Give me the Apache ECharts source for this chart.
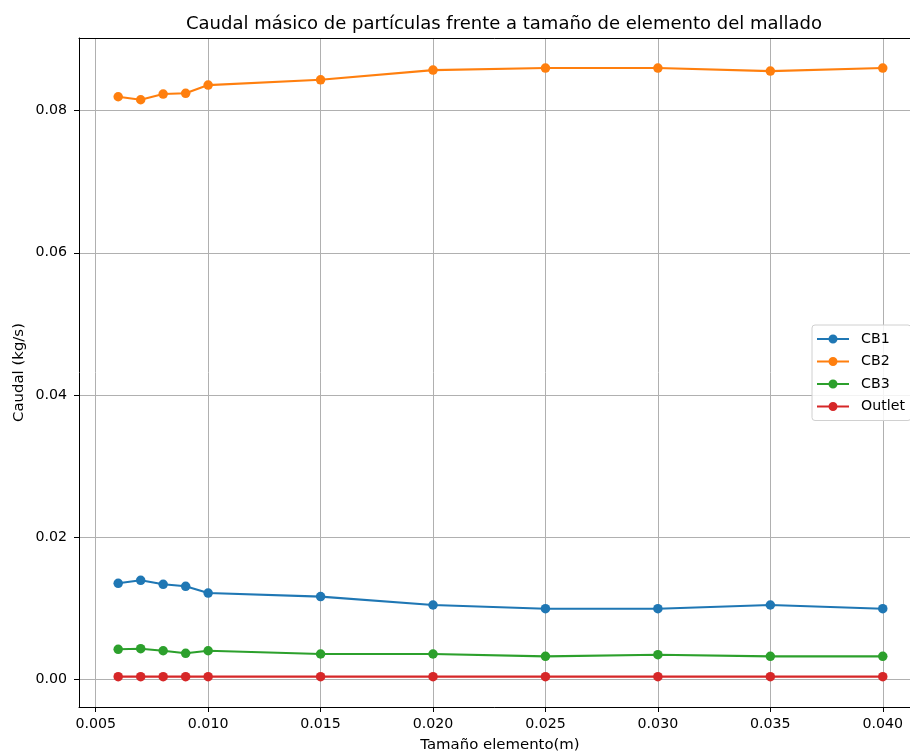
<!DOCTYPE html>
<html>
<head>
<meta charset="utf-8">
<script src="https://cdn.jsdelivr.net/npm/echarts@6/dist/echarts.min.js"></script>
<style>
  html, body { margin: 0; padding: 0; background: #fff; }
  #chart { width: 910px; height: 753px; }
</style>
</head>
<body>
<div id="chart"></div>
<script>
// Element sizes (m) of each mesh
const elementSizes = [0.006, 0.007, 0.008, 0.009, 0.010, 0.015, 0.020, 0.025, 0.030, 0.035, 0.040];

// Particle mass flow (kg/s) per boundary
const cb1 = [0.01347, 0.01389, 0.01333, 0.01305, 0.01210, 0.01160, 0.01042, 0.00990, 0.00990, 0.01042, 0.00990];
const cb2 = [0.08196, 0.08154, 0.08234, 0.08245, 0.08360, 0.08435, 0.08571, 0.08600, 0.08600, 0.08557, 0.08600];
const cb3 = [0.00418, 0.00427, 0.00398, 0.00362, 0.00398, 0.00352, 0.00352, 0.00319, 0.00342, 0.00319, 0.00319];
const outlet = [0.00033, 0.00033, 0.00033, 0.00033, 0.00033, 0.00033, 0.00033, 0.00033, 0.00033, 0.00033, 0.00033];

const seriesNames = ['CB1', 'CB2', 'CB3', 'Outlet'];
const seriesColors = ['#1f77b4', '#ff7f0e', '#2ca02c', '#d62728'];

// Tick positions
const xTicks = [0.005, 0.010, 0.015, 0.020, 0.025, 0.030, 0.035, 0.040];
const yTicks = [0.00, 0.02, 0.04, 0.06, 0.08];

const FONT = 'DejaVu Sans';
const FS = 14.2;       // tick and legend text
const FS_NAME = 14.9;  // axis titles
const X_MIN = 0.004257, X_MAX = 0.0417;
const legendIcon = 'path://M0,4H32V6H0Z M11.5,5A4.5,4.5 0 1 1 20.5,5A4.5,4.5 0 1 1 11.5,5Z';

function makeSeries(name, values, color) {
  return {
    name: name,
    type: 'line',
    xAxisIndex: 0,
    data: elementSizes.map((x, i) => [x, values[i]]),
    symbol: 'circle',
    symbolSize: 9.5,
    showSymbol: true,
    lineStyle: { color: color, width: 2.1 },
    itemStyle: { color: color },
    emphasis: { disabled: true },
    animation: false
  };
}

const chart = echarts.init(document.getElementById('chart'), null, { renderer: 'canvas' });

chart.setOption({
  backgroundColor: '#fff',
  animation: false,
  textStyle: { fontFamily: FONT },
  title: {
    text: 'Caudal másico de partículas frente a tamaño de elemento del mallado',
    left: 499,
    textAlign: 'center',
    top: 10,
    textStyle: { fontFamily: FONT, fontSize: 18, fontWeight: 'normal', color: '#000' }
  },
  grid: {
    left: 79, top: 38, width: 842, height: 669,
    outerBoundsMode: 'none',
    containLabel: false
  },
  legend: {
    orient: 'vertical',
    left: 812, top: 325,
    padding: [7, 6, 7, 5],
    itemGap: 8.5,
    itemWidth: 32, itemHeight: 9,
    icon: legendIcon,
    backgroundColor: 'rgba(255,255,255,0.85)',
    borderColor: '#d0d0d0', borderWidth: 1, borderRadius: 3,
    textStyle: { fontFamily: FONT, fontSize: FS, color: '#000', padding: [0, 0, 0, 7] },
    data: seriesNames
  },
  xAxis: [{
    type: 'value',
    position: 'bottom',
    min: X_MIN, max: X_MAX,
    splitNumber: 7,
    name: 'Tamaño elemento(m)',
    nameLocation: 'middle',
    nameGap: 31,
    nameMoveOverlap: false,
    nameTextStyle: { fontFamily: FONT, fontSize: FS_NAME, color: '#000' },
    axisLine: { onZero: false, lineStyle: { color: '#000', width: 1 } },
    axisTick: { show: true, inside: false, length: 5, customValues: xTicks, lineStyle: { color: '#000' } },
    axisLabel: {
      customValues: xTicks, margin: 10, fontFamily: FONT, fontSize: FS, color: '#000',
      formatter: v => v.toFixed(3)
    },
    splitLine: { show: true, lineStyle: { color: '#b0b0b0', width: 1 } }
  }, {
    // top frame line
    type: 'value',
    position: 'top',
    min: X_MIN, max: X_MAX,
    axisLine: { show: true, onZero: false, lineStyle: { color: '#000', width: 1 } },
    axisTick: { show: false },
    axisLabel: { show: false },
    splitLine: { show: false }
  }],
  yAxis: {
    type: 'value',
    min: -0.00394, max: 0.09023,
    splitNumber: 5,
    name: 'Caudal (kg/s)',
    nameLocation: 'middle',
    nameGap: 52,
    nameMoveOverlap: false,
    nameTextStyle: { fontFamily: FONT, fontSize: FS_NAME, color: '#000' },
    axisLine: { show: true, onZero: false, lineStyle: { color: '#000', width: 1 } },
    axisTick: { show: true, inside: false, length: 5, customValues: yTicks, lineStyle: { color: '#000' } },
    axisLabel: {
      customValues: yTicks, margin: 12, fontFamily: FONT, fontSize: FS, color: '#000',
      formatter: v => v.toFixed(2)
    },
    splitLine: { show: true, lineStyle: { color: '#b0b0b0', width: 1 } }
  },
  series: [
    makeSeries(seriesNames[0], cb1, seriesColors[0]),
    makeSeries(seriesNames[1], cb2, seriesColors[1]),
    makeSeries(seriesNames[2], cb3, seriesColors[2]),
    makeSeries(seriesNames[3], outlet, seriesColors[3])
  ]
});
</script>
</body>
</html>
